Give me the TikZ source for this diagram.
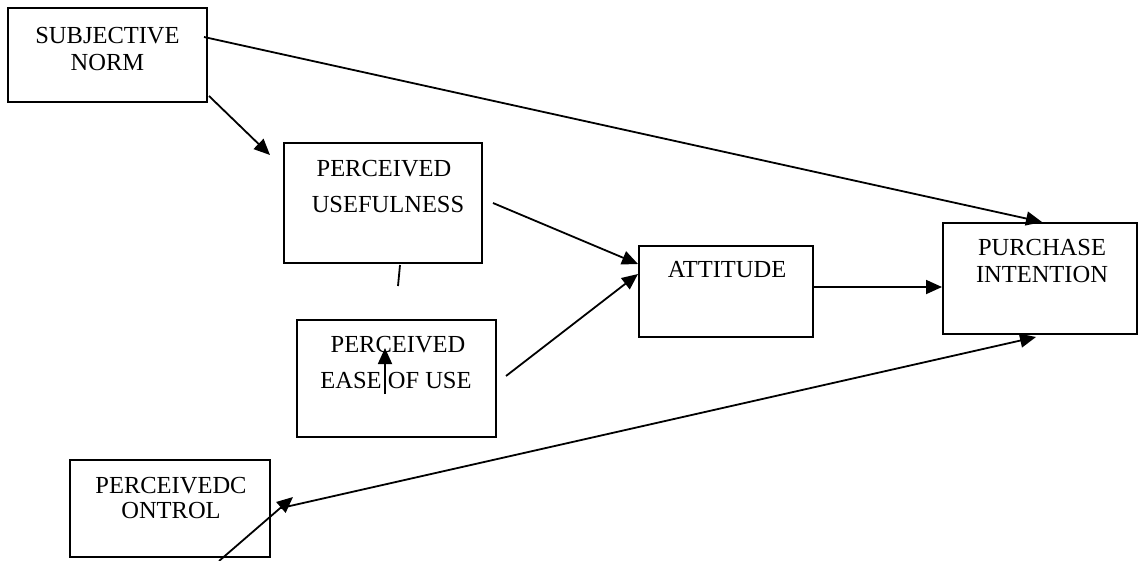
\documentclass[tikz,border=0pt]{standalone}
\usepackage{fontspec}
\setmainfont{Liberation Serif}
\usetikzlibrary{arrows.meta,calc}
\begin{document}
\begin{tikzpicture}[x=1pt,y=-1pt,
  box/.style={draw,line width=2pt,inner sep=0pt,rectangle},
  lbl/.style={font=\fontsize{24.5}{27}\selectfont,inner sep=0pt,anchor=base},
  conn/.style={line width=1.8pt,-{Triangle[length=16pt,width=14pt]}},
  plainline/.style={line width=1.8pt}]
\useasboundingbox (0,0) rectangle (1139,560);

% boxes
\node[box,minimum width=199pt,minimum height=94pt]  (sn)   at (107.5,55)   {};
\node[box,minimum width=198pt,minimum height=120pt] (pu)   at (383,203)    {};
\node[box,minimum width=199pt,minimum height=117pt] (peou) at (396.5,378.5){};
\node[box,minimum width=174pt,minimum height=91pt]  (att)  at (726,291.5)  {};
\node[box,minimum width=194pt,minimum height=111pt] (pi)   at (1040,278.5) {};
\node[box,minimum width=200pt,minimum height=97pt]  (pc)   at (170,508.5)  {};

% labels
\node[lbl] (sn1) at (107.5,43) {SUBJECTIVE};
\node[lbl] (sn2) at (107.5,70) {NORM};
\node[lbl] (pu1) at (384,176) {PERCEIVED};
\node[lbl] (pu2) at (388,212) {USEFULNESS};
\node[lbl] (pe1) at (398,352) {PERCEIVED};
\node[lbl] (pe2) at (396,388) {EASE OF USE};
\node[lbl] (at1) at (727,277) {ATTITUDE};
\node[lbl] (pi1) at (1042,255) {PURCHASE};
\node[lbl] (pi2) at (1042,282) {INTENTION};
\node[lbl] (pc1) at (171,493) {PERCEIVEDC};
\node[lbl] (pc2) at (171,518) {ONTROL};

% connectors
\draw[conn] ($(sn.east)+(-4,-18)$) -- ($(pi.north west)+(100,0)$);
\draw[conn] ($(sn.south east)+(1,-7)$) -- ($(pu.north west)+(-13,13)$);
\draw[conn] ($(pu.east)+(10,0)$) -- ($(att.west)+(0,-27.5)$);
\draw[conn] ($(peou.east)+(9,-2.5)$) -- ($(att.west)+(0,-17.5)$);
\draw[conn] ($(att.east)+(0,-4.5)$) -- ($(pi.west)+(0,8.5)$);
\draw[conn] ($(pc.east)+(10,-0.5)$) -- ($(pi.south west)+(94,2)$);
\coordinate (pcfoot) at ($(pc.south)+(49,3)$);
\draw[conn] (pcfoot) -- ($(pc.east)+(22,-11.5)$);
\coordinate (pustub) at ($(pu.south)+(15,22)$);
\draw[plainline] ($(pu.south)+(17,1)$) -- (pustub);
\draw[conn] ($(peou.center)+(-11.5,15.5)$) -- ($(peou.center)+(-11.5,-30.5)$);
\end{tikzpicture}
\end{document}
